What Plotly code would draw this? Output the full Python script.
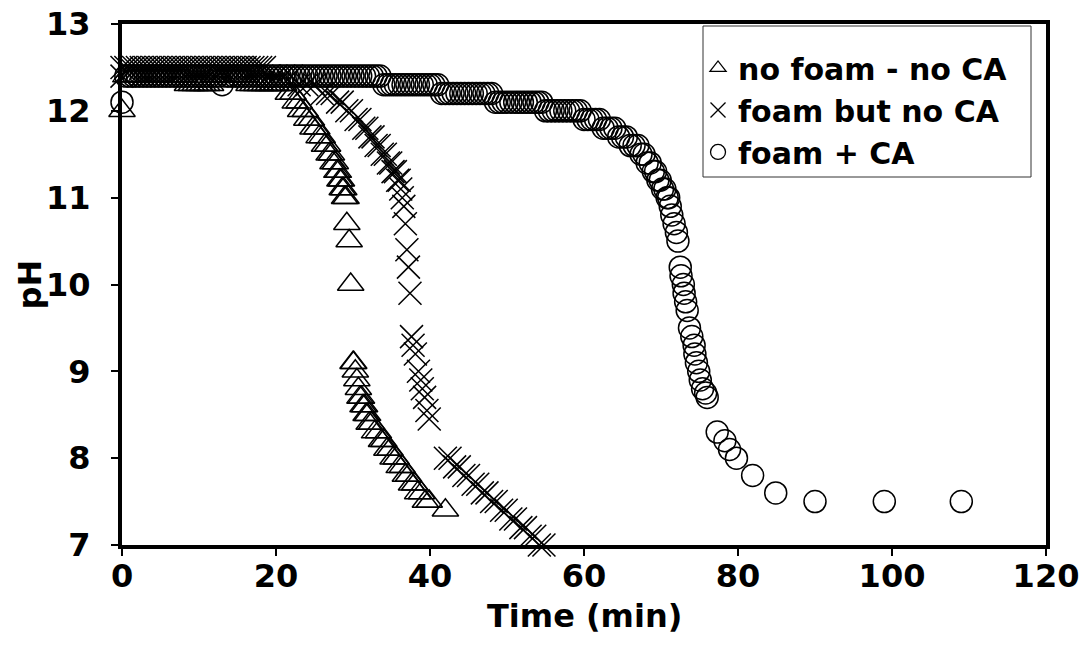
import plotly.graph_objects as go

# ---------------- data ----------------
# Series 1: no foam - no CA (triangles)
t_nofoam = [0, 0.5, 1, 1.5, 2, 2.5, 3, 3.5, 4, 4.5, 5, 5.5, 6, 6.5, 7, 7.5, 8,
            8.5, 9, 9.5, 10, 10.5, 11, 11.5,
            12, 12.5, 13, 13.5, 14, 14.5, 15, 15.5, 16,
            16.5, 17, 17.5, 18, 18.5, 19, 19.5, 20, 20.5, 21,
            21.6, 22.2, 22.5, 23.0, 23.2, 23.8, 24.0, 24.6, 24.8, 25.3, 25.6, 26.0, 26.3,
            26.7, 26.9, 27.2, 27.4, 27.7, 27.9, 28.1, 28.3, 28.5, 28.6, 28.8, 28.9, 29.1,
            29.2, 29.5, 29.7,
            30.0, 30.1, 30.3, 30.5, 30.7, 30.9, 31.1, 31.3, 31.5, 31.7, 31.9, 32.1, 32.4,
            32.8, 33.3, 33.7, 34.0, 34.4, 34.8, 35.2, 35.6, 36.0, 36.4, 36.8, 37.2, 37.6,
            38.0, 38.4, 38.9, 39.4, 39.9, 42.0]
ph_nofoam = [12.0, 12.4, 12.4, 12.4, 12.4, 12.4, 12.4, 12.4, 12.4, 12.4, 12.4, 12.4, 12.4, 12.4, 12.4, 12.4, 12.4,
             12.3, 12.3, 12.3, 12.3, 12.3, 12.3, 12.3,
             12.4, 12.4, 12.4, 12.4, 12.4, 12.4, 12.4, 12.4, 12.4,
             12.3, 12.3, 12.3, 12.3, 12.3, 12.3, 12.3, 12.3, 12.3, 12.3,
             12.2, 12.2, 12.1, 12.1, 12.0, 12.0, 11.9, 11.9, 11.8, 11.8, 11.7, 11.7, 11.6,
             11.6, 11.5, 11.5, 11.4, 11.4, 11.3, 11.3, 11.2, 11.2, 11.1, 11.1, 11.0, 11.0,
             10.7, 10.5, 10.0,
             9.1, 9.1, 9.0, 8.9, 8.8, 8.7, 8.7, 8.6, 8.6, 8.5, 8.5, 8.4, 8.4,
             8.3, 8.3, 8.2, 8.2, 8.1, 8.1, 8.0, 8.0, 7.9, 7.9, 7.8, 7.8, 7.7,
             7.7, 7.6, 7.6, 7.5, 7.5, 7.4]

# Series 2: foam but no CA (crosses)
t_foam = [0, 0, 0.5, 1, 1.5, 2, 2.5, 3, 3.5, 4, 4.5, 5, 5.5, 6, 6.5, 7, 7.5, 8, 8.5,
          9, 9.5, 10, 10.5, 11, 11.5, 12, 12.5, 13, 13.5, 14, 14.5, 15, 15.5, 16, 16.5,
          17, 17.5, 18, 18.5,
          19, 20, 21, 22, 23, 24, 25, 26, 26.7, 27.3, 28, 28.6, 29.2, 29.8, 30.4, 30.9,
          31.4, 31.8, 32.2, 32.6, 33.0, 33.4, 33.8, 34.2, 34.6, 34.9, 35.2, 35.5, 35.8,
          36.0, 36.2, 36.4, 36.6, 36.8, 37.0, 37.2, 37.4,
          37.6, 37.8, 38.1, 38.5, 38.8, 39.0, 39.3, 39.6, 39.9,
          42.0, 42.6, 43.2, 43.8, 44.4, 45.0, 45.6, 46.2, 46.8, 47.4, 48.0, 48.6, 49.3,
          49.9, 50.5, 51.1, 51.8, 52.4, 53.0, 53.6, 54.2, 54.8]
ph_foam = [12.5, 12.4, 12.5, 12.5, 12.5, 12.5, 12.5, 12.5, 12.5, 12.5, 12.5, 12.5, 12.5, 12.5, 12.5, 12.5, 12.5, 12.5, 12.5,
           12.5, 12.5, 12.5, 12.5, 12.5, 12.5, 12.5, 12.5, 12.5, 12.5, 12.5, 12.5, 12.5, 12.5, 12.5, 12.5,
           12.5, 12.5, 12.5, 12.5,
           12.4, 12.4, 12.4, 12.4, 12.3, 12.3, 12.3, 12.2, 12.2, 12.2, 12.1, 12.1, 12.0, 12.0, 11.9, 11.9,
           11.8, 11.8, 11.7, 11.7, 11.6, 11.6, 11.5, 11.5, 11.4, 11.4, 11.3, 11.3, 11.2,
           11.2, 11.1, 11.0, 10.9, 10.7, 10.4, 10.2, 9.9,
           9.4, 9.3, 9.2, 9.0, 8.9, 8.8, 8.7, 8.55, 8.45,
           8.0, 8.0, 7.9, 7.9, 7.8, 7.8, 7.7, 7.7, 7.6, 7.6, 7.5, 7.5, 7.4,
           7.4, 7.3, 7.3, 7.2, 7.2, 7.1, 7.1, 7.0, 7.0]

# Series 3: foam + CA (circles) - plateau part
t_ca_plateau = [0, 0.5, 1, 1.5, 2, 2.5, 3, 3.5, 4, 4.5, 5, 5.5, 6, 6.5, 7, 7.5, 8, 8.5, 9, 9.5,
                10, 10.5, 11, 11.5, 12, 12.5, 13, 13.5, 14, 14.5, 15, 15.5, 16, 16.5, 17, 17.5,
                18, 18.5, 19, 19.5, 20, 20.5, 21, 21.5, 22, 22.5, 23, 23.5, 24, 24.5, 25, 25.5,
                26, 26.5, 27, 27.5, 28, 28.5, 29, 29.5, 30, 30.5, 31, 31.5, 32, 32.5, 33, 33.5,
                34, 34.5, 35, 35.5, 36, 36.5, 37, 37.5, 38, 38.5, 39, 39.5, 40, 40.5, 41,
                41.5, 42, 42.5, 43, 43.5, 44, 44.5, 45, 45.5, 46, 46.5, 47, 47.5, 48,
                48.5, 49, 49.5, 50, 50.5, 51, 51.5, 52, 52.5, 53, 53.5, 54, 54.5,
                55, 55.5, 56, 56.5, 57, 57.5, 58, 58.5, 59, 59.5,
                60, 60.5, 61, 61.5, 62]
ph_ca_plateau = [12.1, 12.4, 12.4, 12.4, 12.4, 12.4, 12.4, 12.4, 12.4, 12.4, 12.4, 12.4, 12.4, 12.4, 12.4, 12.4, 12.4, 12.4, 12.4, 12.4,
                 12.4, 12.4, 12.4, 12.4, 12.4, 12.4, 12.3, 12.4, 12.4, 12.4, 12.4, 12.4, 12.4, 12.4, 12.4, 12.4,
                 12.4, 12.4, 12.4, 12.4, 12.4, 12.4, 12.4, 12.4, 12.4, 12.4, 12.4, 12.4, 12.4, 12.4, 12.4, 12.4,
                 12.4, 12.4, 12.4, 12.4, 12.4, 12.4, 12.4, 12.4, 12.4, 12.4, 12.4, 12.4, 12.4, 12.4, 12.4, 12.4,
                 12.3, 12.3, 12.3, 12.3, 12.3, 12.3, 12.3, 12.3, 12.3, 12.3, 12.3, 12.3, 12.3, 12.3, 12.3,
                 12.2, 12.2, 12.2, 12.2, 12.2, 12.2, 12.2, 12.2, 12.2, 12.2, 12.2, 12.2, 12.2, 12.2,
                 12.1, 12.1, 12.1, 12.1, 12.1, 12.1, 12.1, 12.1, 12.1, 12.1, 12.1, 12.1, 12.1,
                 12.0, 12.0, 12.0, 12.0, 12.0, 12.0, 12.0, 12.0, 12.0, 12.0,
                 11.9, 11.9, 11.9, 11.9, 11.9]
# Series 3: foam + CA (circles) - drop part
t_ca_drop = [62.5, 63.0, 63.5, 64.0, 64.5, 65.0, 65.5, 66.0, 66.5, 67.0, 67.4, 67.8, 68.2, 68.6,
             69.0, 69.3, 69.6, 69.9, 70.2, 70.5, 70.8, 71.0, 71.2, 71.4, 71.7, 72.0, 72.2,
             72.5, 72.6, 72.9, 73.0, 73.2, 73.4, 73.7, 74.0, 74.3, 74.4, 74.6, 74.9, 75.1,
             75.4, 75.8, 76.0, 77.3, 78.3, 78.9, 79.8, 81.9, 84.9, 90, 99, 109]
ph_ca_drop = [11.8, 11.8, 11.8, 11.8, 11.7, 11.7, 11.7, 11.6, 11.6, 11.6, 11.5, 11.5, 11.4, 11.4,
              11.3, 11.3, 11.2, 11.2, 11.1, 11.1, 11.0, 11.0, 10.9, 10.8, 10.7, 10.6, 10.5,
              10.2, 10.1, 10.0, 9.9, 9.8, 9.7, 9.5, 9.4, 9.3, 9.2, 9.1, 9.0, 8.9,
              8.8, 8.75, 8.7, 8.3, 8.2, 8.1, 8.0, 7.8, 7.6, 7.5, 7.5, 7.5]

series_names = ["no foam - no CA", "foam but no CA", "foam + CA"]
x_ticks = [0, 20, 40, 60, 80, 100, 120]
y_ticks = [7, 8, 9, 10, 11, 12, 13]

# ---------------- figure ----------------
FONT = "DejaVu Sans"
BLACK = "black"

fig = go.Figure()

fig.add_trace(go.Scatter(
    x=t_nofoam, y=ph_nofoam, mode="markers", showlegend=False, cliponaxis=False,
    marker=dict(symbol="triangle-up-open", size=23, color=BLACK,
                line=dict(color=BLACK, width=1.5))))
fig.add_trace(go.Scatter(
    x=t_foam, y=ph_foam, mode="markers", showlegend=False, cliponaxis=False,
    marker=dict(symbol="x-thin-open", size=23, color=BLACK,
                line=dict(color=BLACK, width=1.5))))
fig.add_trace(go.Scatter(
    x=t_ca_plateau + t_ca_drop, y=ph_ca_plateau + ph_ca_drop, mode="markers",
    showlegend=False, cliponaxis=False,
    marker=dict(symbol="circle-open", size=22, color=BLACK,
                line=dict(color=BLACK, width=1.5))))

# legend entries (smaller symbols as in the reference legend)
legend_symbols = [("triangle-up-open", 14), ("x-thin-open", 15), ("circle-open", 15)]
for name, (sym, sz) in zip(series_names, legend_symbols):
    fig.add_trace(go.Scatter(
        x=[None], y=[None], mode="markers", name=name,
        marker=dict(symbol=sym, size=sz, color=BLACK, line=dict(color=BLACK, width=1.3))))

axis_common = dict(
    showline=True, linecolor=BLACK, linewidth=4, mirror=True,
    ticks="outside", ticklen=7, tickwidth=1.5, tickcolor=BLACK,
    showgrid=False, zeroline=False, automargin=False,
    tickfont=dict(family=FONT, size=32, color=BLACK, weight="bold"),
)

fig.update_layout(
    width=1082, height=646,
    margin=dict(l=122, r=36, t=24, b=101),
    plot_bgcolor="white", paper_bgcolor="white",
    font=dict(family=FONT, size=30, color=BLACK, weight="bold"),
    xaxis=dict(range=[0, 120], tickvals=x_ticks, ticklabelstandoff=-7, **axis_common),
    yaxis=dict(range=[7, 13], tickvals=y_ticks, ticklabelstandoff=14, **axis_common),
    legend=dict(x=0.6234, y=0.9655, xanchor="left", yanchor="top",
                bgcolor="rgba(0,0,0,0)", borderwidth=0,
                font=dict(family=FONT, size=30, color=BLACK, weight="bold"),
                itemwidth=30, traceorder="normal"),
    shapes=[
        dict(type="rect", xref="paper", yref="paper",
             x0=(703 - 122) / 924, x1=(1031 - 122) / 924,
             y0=(545 - 177) / 521, y1=(545 - 26) / 521,
             line=dict(color="#333", width=1), fillcolor="white", layer="above"),
    ],
    annotations=[
        dict(text="Time (min)", xref="paper", yref="paper", x=0.5, y=(545 - 616) / 521,
             xanchor="center", yanchor="middle", showarrow=False,
             font=dict(family=FONT, size=32, color=BLACK, weight="bold")),
        dict(text="pH", xref="paper", yref="paper", x=-0.0996, y=0.5,
             xanchor="center", yanchor="middle", showarrow=False, textangle=-90,
             font=dict(family=FONT, size=32, color=BLACK, weight="bold")),
    ],
)

fig.write_html("out.html")
